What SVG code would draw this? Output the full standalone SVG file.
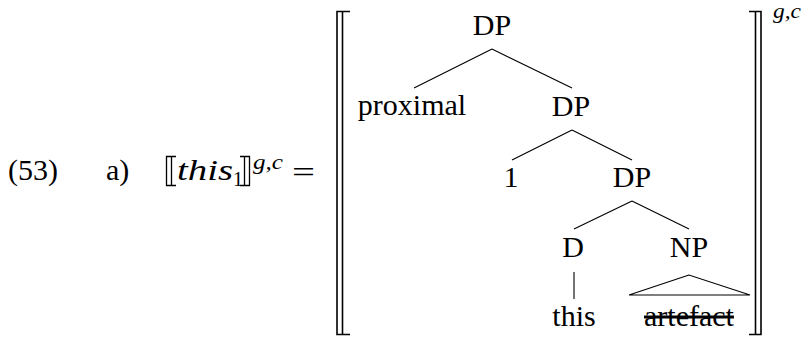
<svg xmlns="http://www.w3.org/2000/svg" width="804" height="339" viewBox="0 0 804 339">
<rect width="804" height="339" fill="#fff"/>
<g id="label">
<text x="8" y="180" font-size="30" font-family="Liberation Serif">(53)</text>
<text x="106" y="180" font-size="30" font-family="Liberation Serif">a)</text>
<path d="M176,156.5H166.5V185.5H176M166.5,156.5V185.5M171.5,156.5V185.5" stroke="#000" stroke-width="1.3" fill="none"/>
<text x="177" y="180" font-size="30" font-family="Liberation Serif" font-style="italic" textLength="56" lengthAdjust="spacingAndGlyphs">this</text>
<text x="233" y="186" font-size="20" font-family="Liberation Serif">1</text>
<path d="M240,156.5H249.5V185.5H240M249.5,156.5V185.5M244.5,156.5V185.5" stroke="#000" stroke-width="1.3" fill="none"/>
<text x="253" y="169" font-size="20" font-family="Liberation Serif" font-style="italic" textLength="30" lengthAdjust="spacingAndGlyphs">g,c</text>
<text x="292" y="182" font-size="30" font-family="Liberation Serif" textLength="23" lengthAdjust="spacingAndGlyphs">=</text>
</g>
<g id="brackets" stroke="#000" stroke-width="1.6" fill="none">
<path d="M350,11.5H337V334.5H350M342.5,11.5V334.5"/>
<path d="M749,11.5H761V334.5H749M755.5,11.5V334.5"/>
</g>
<g id="outer-sup"><text x="773" y="18" font-size="20" font-family="Liberation Serif" font-style="italic" textLength="28" lengthAdjust="spacingAndGlyphs">g,c</text></g>
<g id="connectors" stroke="#000" stroke-width="1.1" fill="none">
<line x1="492" y1="49" x2="414" y2="88"/>
<line x1="492" y1="49" x2="572" y2="88"/>
<line x1="572" y1="130" x2="512" y2="160"/>
<line x1="572" y1="130" x2="632" y2="160"/>
<line x1="632" y1="201" x2="574" y2="229"/>
<line x1="632" y1="201" x2="689" y2="229"/>
<line x1="574" y1="272" x2="574" y2="299"/>
<polygon points="689,275 629,295 750,295"/>
</g>
<g id="dp1"><text x="492" y="35" font-size="30" font-family="Liberation Serif" text-anchor="middle">DP</text></g>
<g id="proximal"><text x="412" y="115" font-size="30" font-family="Liberation Serif" text-anchor="middle">proximal</text></g>
<g id="dp2"><text x="571" y="116" font-size="30" font-family="Liberation Serif" text-anchor="middle">DP</text></g>
<g id="one"><text x="511" y="187" font-size="30" font-family="Liberation Serif" text-anchor="middle">1</text></g>
<g id="dp3"><text x="632" y="187" font-size="30" font-family="Liberation Serif" text-anchor="middle">DP</text></g>
<g id="d"><text x="573" y="257" font-size="30" font-family="Liberation Serif" text-anchor="middle">D</text></g>
<g id="np"><text x="689" y="257" font-size="30" font-family="Liberation Serif" text-anchor="middle">NP</text></g>
<g id="this"><text x="574" y="326" font-size="30" font-family="Liberation Serif" text-anchor="middle">this</text></g>
<g id="artefact"><text x="689" y="326" font-size="30" font-family="Liberation Serif" text-anchor="middle" text-decoration="line-through">artefact</text></g>
</svg>
